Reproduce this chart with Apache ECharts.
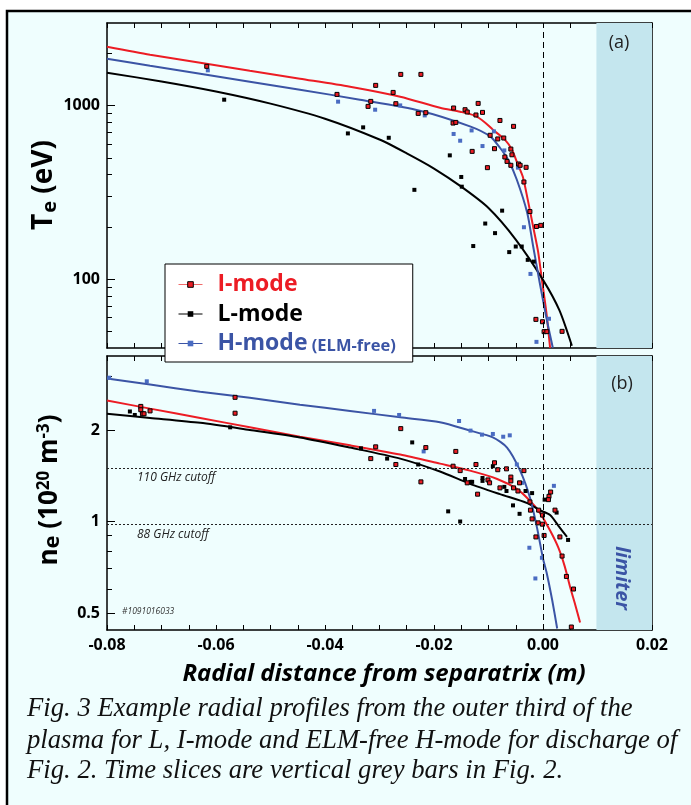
<!DOCTYPE html>
<html><head><meta charset="utf-8">
<script src="https://cdn.jsdelivr.net/npm/echarts@6/dist/echarts.min.js"></script>
<style>html,body{margin:0;padding:0;background:#fff}#c{width:691px;height:805px}</style>
</head><body><div id="c"></div>
<script>
// ---------- data ----------
// Panel (a): electron temperature Te (eV), fit curves
const teIFitX = [-0.0800,-0.0721,-0.0629,-0.0538,-0.0446,-0.0354,-0.0262,-0.0189,-0.0152,-0.0125,-0.0106,-0.0092,-0.0070,-0.0057,-0.0046,-0.0037,-0.0028,-0.0018,-0.0009,-0.0002,0.0006,0.0013];
const teIFitY = [2190,1970,1771,1592,1432,1287,1127,974,923,876,798,727,637,557,457,389,287,200,144,99,64.8,40.1];
const teLFitX = [-0.0800,-0.0700,-0.0600,-0.0500,-0.0400,-0.0300,-0.0250,-0.0200,-0.0150,-0.0100,-0.0050,0.0000,0.0030,0.0053];
const teLFitY = [1549,1380,1208,1028,841,638,531,434,341,257,169,98.9,66.1,41.2];
const teHFitX = [-0.0800,-0.0721,-0.0629,-0.0538,-0.0446,-0.0336,-0.0226,-0.0134,-0.0097,-0.0079,-0.0064,-0.0048,-0.0029,-0.0018,-0.0006,0.0007,0.0018];
const teHFitY = [1867,1701,1530,1376,1237,1083,936,760,665,572,488,374,241,154,95.2,58.2,40.1];
// Panel (a): measured points [x (m), Te (eV)]
const teIPts = [[-0.0617,1687],[-0.0378,1162],[-0.0307,1310],[-0.0316,1059],[-0.0321,991],[-0.0261,1516],[-0.0224,1516],[-0.0275,1193],[-0.0270,1027],[-0.0229,903],[-0.0215,911],[-0.0164,970],[-0.0143,948],[-0.0139,920],[-0.0119,1031],[-0.0111,915],[-0.0123,884],[-0.0165,794],[-0.0160,801],[-0.0130,545],[-0.0079,822],[-0.0054,760],[-0.0097,675],[-0.0083,643],[-0.0072,651],[-0.0089,565],[-0.0059,562],[-0.0057,521],[-0.0070,506],[-0.0066,477],[-0.0059,453],[-0.0045,461],[-0.0042,453],[-0.0102,439],[-0.0031,441],[-0.0035,363],[-0.0024,245],[-0.0012,201],[-0.0004,204],[-0.0013,58.5],[-0.0001,56.7],[0.0002,49.7],[0.0007,49.7],[0.0035,49.9]];
const teLPts = [[-0.0585,1083],[-0.0358,692],[-0.0330,750],[-0.0283,653],[-0.0236,327],[-0.0171,517],[-0.0150,388],[-0.0149,341],[-0.0075,248],[-0.0106,209],[-0.0088,184],[-0.0128,155],[-0.0062,143],[-0.0050,154],[-0.0039,154],[-0.0028,129],[-0.0017,126]];
const teHPts = [[-0.0615,1600],[-0.0376,1055],[-0.0308,948],[-0.0262,1004],[-0.0217,879],[-0.0131,720],[-0.0164,687],[-0.0152,628],[-0.0111,585],[-0.0090,711],[-0.0071,552],[-0.0046,439],[-0.0035,199],[-0.0023,107],[0.0011,59],[-0.0012,43.4]];

// Panel (b): electron density ne (1e20 m^-3), fit curves
const neIFitX = [-0.0800,-0.0721,-0.0629,-0.0538,-0.0446,-0.0354,-0.0262,-0.0189,-0.0134,-0.0084,-0.0048,-0.0024,-0.0006,0.0013,0.0028,0.0040,0.0050,0.0059,0.0068];
const neIFitY = [2.50,2.35,2.19,2.04,1.90,1.78,1.66,1.55,1.47,1.38,1.28,1.17,1.07,0.934,0.822,0.711,0.607,0.534,0.466];
const neLFitX = [-0.0800,-0.0721,-0.0629,-0.0538,-0.0446,-0.0354,-0.0262,-0.0189,-0.0134,-0.0079,-0.0029,-0.0006,0.0013,0.0028,0.0044];
const neLFitY = [2.26,2.19,2.11,2.00,1.89,1.75,1.61,1.46,1.33,1.23,1.15,1.09,1.05,0.97,0.89];
const neHFitX = [-0.0800,-0.0721,-0.0629,-0.0538,-0.0446,-0.0354,-0.0262,-0.0189,-0.0134,-0.0092,-0.0066,-0.0042,-0.0024,-0.0011,0.0000,0.0007,0.0017,0.0026];
const neHFitY = [2.95,2.82,2.67,2.55,2.42,2.31,2.20,2.12,1.99,1.89,1.75,1.47,1.20,0.955,0.756,0.675,0.550,0.445];
// Panel (b): measured points [x (m), ne]
const neIPts = [[-0.0738,2.39],[-0.0738,2.33],[-0.0735,2.26],[-0.0732,2.26],[-0.0721,2.31],[-0.0565,2.56],[-0.0565,2.27],[-0.0261,2.02],[-0.0307,1.76],[-0.0316,1.61],[-0.0270,1.54],[-0.0215,1.75],[-0.0224,1.35],[-0.0160,1.70],[-0.0165,1.52],[-0.0152,1.47],[-0.0139,1.34],[-0.0123,1.54],[-0.0120,1.23],[-0.0089,1.56],[-0.0083,1.48],[-0.0067,1.49],[-0.0035,1.47],[-0.0101,1.37],[-0.0098,1.34],[-0.0079,1.29],[-0.0059,1.40],[-0.0059,1.36],[-0.0054,1.29],[-0.0043,1.34],[-0.0046,1.26],[-0.0024,1.16],[-0.0023,1.09],[-0.0020,1.02],[-0.0008,1.09],[-0.0001,1.05],[-0.0001,0.98],[0.0002,0.90],[-0.0013,0.89],[0.0014,1.25],[0.0011,1.21],[0.0010,1.18],[0.0022,1.09],[0.0031,0.89],[0.0035,0.77],[0.0043,0.66],[0.0056,0.60],[0.0052,0.45],[-0.0009,0.99]];
const neLPts = [[-0.0758,2.30],[-0.0749,2.24],[-0.0574,2.04],[-0.0334,1.74],[-0.0286,1.61],[-0.0240,1.82],[-0.0229,1.54],[-0.0174,1.08],[-0.0152,1.00],[-0.0143,1.38],[-0.0133,1.35],[-0.0130,1.35],[-0.0092,1.52],[-0.0111,1.39],[-0.0111,1.36],[-0.0071,1.30],[-0.0067,1.26],[-0.0032,1.26],[-0.0020,1.24],[-0.0055,1.13],[-0.0043,1.06],[0.0003,1.18],[0.0025,1.07],[0.0046,0.87]];
const neHPts = [[-0.0796,2.97],[-0.0727,2.89],[-0.0310,2.31],[-0.0264,2.24],[-0.0219,1.70],[-0.0154,2.14],[-0.0133,1.99],[-0.0112,1.93],[-0.0092,1.94],[-0.0073,1.90],[-0.0061,1.92],[-0.0048,1.54],[-0.0038,1.34],[0.0020,1.31],[-0.0025,0.82],[-0.0002,0.76],[-0.0014,0.65]];

// axes
const xRange = [-0.08, 0.02];
const teRange = [40, 3000];
const neRange = [0.44, 3.5];
const teMajorTicks = [100, 1000];
const teMinorTicks = [50,60,70,80,90,200,300,400,500,600,700,800,900,2000];
const neMajorTicks = [0.5, 1, 2];
const neMinorTicks = [0.6,0.7,0.8,0.9,3];
const limiterStart = 0.0098;
const cutoffs = [1.5, 0.98];
const cutoffLabels = ['110 GHz cutoff', '88 GHz cutoff'];
const modeNames = ['I-mode', 'L-mode', 'H-mode'];

// ---------- styling ----------
const FONT = '"Open Sans", "Noto Sans", sans-serif';
const SERIF = '"Liberation Serif", "DejaVu Serif", serif';
const RED = '#ec1c24', BLUE = '#3b54a5', BLUEPT = '#4a6cc2', BLK = '#000';
const zip = (xs, ys) => xs.map((x, i) => [x, ys[i]]);

function xAx(grid, pos, labels) {
  return {
    type: 'value', gridIndex: grid, position: pos, min: xRange[0], max: xRange[1], interval: 0.02,
    axisLine: {show: true, onZero: false, lineStyle: {color: '#000', width: 1.5}},
    axisTick: {show: true, inside: true, length: 5, lineStyle: {color: '#000', width: 1}},
    minorTick: {show: true, splitNumber: 4, length: 5, lineStyle: {color: '#000', width: 1}},
    splitLine: {show: false}, minorSplitLine: {show: false},
    axisLabel: {show: labels, margin: 7, fontFamily: FONT, fontWeight: 'bold', fontSize: 16, color: '#000',
      formatter: v => Math.abs(v) < 1e-9 ? '0.00' : v.toFixed(2)}
  };
}
function yAx(grid, pos, range, ticks, len, line, labels, fmt) {
  return {
    type: 'log', logBase: 10, gridIndex: grid, position: pos, min: range[0], max: range[1],
    axisLine: {show: line, onZero: false, lineStyle: {color: '#000', width: 1.5}},
    axisTick: {show: true, inside: true, length: len, customValues: ticks, lineStyle: {color: '#000', width: 1}},
    axisLabel: {show: labels, customValues: ticks, margin: 7, fontFamily: FONT, fontWeight: 'bold', fontSize: 16, color: '#000', formatter: fmt},
    splitLine: {show: false}, minorTick: {show: false}
  };
}
const teFmt = v => String(Math.round(v));
const neFmt = v => v >= 0.999 ? String(Math.round(v)) : v.toFixed(1);

function fitLine(name, data, color, xi, yi, extra) {
  return Object.assign({
    type: 'line', name, data, xAxisIndex: xi, yAxisIndex: yi, smooth: 0.25, symbol: 'rect', showSymbol: false,
    lineStyle: {color, width: 2}, itemStyle: {color}, z: 2, silent: true
  }, extra || {});
}
function pts(name, data, xi, yi, fill, border, size) {
  return {
    type: 'scatter', name, data, xAxisIndex: xi, yAxisIndex: yi, symbol: 'rect', symbolSize: size,
    itemStyle: {color: fill, borderColor: border || fill, borderWidth: border ? 1 : 0, opacity: 1}, z: 3, silent: true
  };
}
function markers(withCutoffs) {
  const ml = [{xAxis: 0, lineStyle: {type: [6, 4], color: '#000', width: 1}}];
  if (withCutoffs) {
    cutoffs.forEach((c, i) => ml.push({
      yAxis: c,
      label: {show: true, formatter: cutoffLabels[i], position: 'insideStartBottom', distance: [30, 4],
        fontStyle: 'italic', fontSize: 12, color: '#222', fontFamily: FONT}
    }));
  }
  return {
    markArea: {silent: true, itemStyle: {color: '#c4e6ee', opacity: 1}, data: [[{xAxis: limiterStart}, {xAxis: xRange[1]}]]},
    markLine: {silent: true, symbol: ['none', 'none'], animation: false,
      lineStyle: {color: '#222', width: 1, type: [2, 2]}, label: {show: false}, data: ml}
  };
}

const legendText = {fontSize: 23, fontWeight: 'bold', fontFamily: FONT, padding: [0, 0, 0, 10]};
const option = {
  animation: false,
  backgroundColor: '#effefe',
  grid: [
    {left: 107, top: 23, width: 545, height: 325, containLabel: false, outerBoundsMode: 'none'},
    {left: 107, top: 356, width: 545, height: 274, containLabel: false, outerBoundsMode: 'none'}
  ],
  xAxis: [xAx(0, 'bottom', false), xAx(0, 'top', false), xAx(1, 'bottom', true), xAx(1, 'top', false)],
  yAxis: [
    yAx(0, 'left', teRange, teMajorTicks, 8, true, true, teFmt),
    yAx(0, 'left', teRange, teMinorTicks, 5, false, false, teFmt),
    yAx(0, 'right', teRange, teMajorTicks, 8, true, false, teFmt),
    yAx(0, 'right', teRange, teMinorTicks, 5, false, false, teFmt),
    yAx(1, 'left', neRange, neMajorTicks, 8, true, true, neFmt),
    yAx(1, 'left', neRange, neMinorTicks, 5, false, false, neFmt),
    yAx(1, 'right', neRange, neMajorTicks, 8, true, false, neFmt),
    yAx(1, 'right', neRange, neMinorTicks, 5, false, false, neFmt)
  ],
  legend: {
    orient: 'vertical', left: 165, top: 264, padding: [9, 17, 7, 13], itemGap: 6.5,
    itemWidth: 24, itemHeight: 7, backgroundColor: '#fff', borderColor: '#000', borderWidth: 1,
    borderRadius: 0, selectedMode: false, z: 10,
    data: [
      {name: modeNames[0], itemStyle: {color: RED, borderColor: '#000', borderWidth: 1}, lineStyle: {color: '#f06a6a', width: 1}},
      {name: modeNames[1], itemStyle: {color: '#000', borderWidth: 0}, lineStyle: {color: '#000', width: 1}},
      {name: modeNames[2], itemStyle: {color: BLUEPT, borderWidth: 0}, lineStyle: {color: BLUE, width: 1}}
    ],
    formatter: n => n === 'H-mode' ? '{h|H-mode}{hs| (ELM-free)}' : (n === 'I-mode' ? '{i|I-mode}' : '{l|L-mode}'),
    textStyle: {
      rich: {
        i: Object.assign({color: RED}, legendText),
        l: Object.assign({color: '#000'}, legendText),
        h: Object.assign({color: BLUE}, legendText),
        hs: {color: BLUE, fontSize: 16.5, fontWeight: 'bold', fontFamily: FONT, padding: [6, 0, 0, 0]}
      }
    }
  },
  series: [
    fitLine(modeNames[0], zip(teIFitX, teIFitY), RED, 0, 0),
    fitLine(modeNames[1], zip(teLFitX, teLFitY), BLK, 0, 0, markers(false)),
    fitLine(modeNames[2], zip(teHFitX, teHFitY), BLUE, 0, 0),
    fitLine(modeNames[0], zip(neIFitX, neIFitY), RED, 2, 4),
    fitLine(modeNames[1], zip(neLFitX, neLFitY), BLK, 2, 4, markers(true)),
    fitLine(modeNames[2], zip(neHFitX, neHFitY), BLUE, 2, 4),
    pts(modeNames[1], teLPts, 0, 0, '#000', null, 4),
    pts(modeNames[2], teHPts, 0, 0, BLUEPT, null, 4),
    pts(modeNames[0], teIPts, 0, 0, RED, '#000', 4),
    pts(modeNames[1], neLPts, 2, 4, '#000', null, 4),
    pts(modeNames[2], neHPts, 2, 4, BLUEPT, null, 4),
    pts(modeNames[0], neIPts, 2, 4, RED, '#000', 4)
  ],
  graphic: [
    {type: 'rect', silent: true, shape: {x: 0, y: 0, width: 691, height: 10}, style: {fill: '#fff'}},
    {type: 'rect', silent: true, shape: {x: 0, y: 0, width: 6, height: 805}, style: {fill: '#fff'}},
    {type: 'polyline', silent: true, shape: {points: [[7, 805], [7, 11], [691, 11]]}, style: {stroke: '#000', lineWidth: 2.5, fill: null}},
    {type: 'text', silent: true, x: 619, y: 43, z: 20, style: {text: '(a)', fontSize: 18, fontFamily: FONT, fill: '#222', align: 'center', verticalAlign: 'middle', textAlign: 'center', textVerticalAlign: 'middle'}},
    {type: 'text', silent: true, x: 622, y: 384, z: 20, style: {text: '(b)', fontSize: 18, fontFamily: FONT, fill: '#222', align: 'center', verticalAlign: 'middle', textAlign: 'center', textVerticalAlign: 'middle'}},
    {type: 'text', silent: true, x: 622, y: 578, rotation: -Math.PI / 2, z: 20, style: {text: 'limiter', fontSize: 20, fontWeight: 'bold', fontStyle: 'italic', fontFamily: FONT, fill: BLUE, align: 'center', verticalAlign: 'middle', textAlign: 'center', textVerticalAlign: 'middle'}},
    {type: 'text', silent: true, x: 122, y: 612, z: 20, style: {text: '#1091016033', fontSize: 8.5, fontStyle: 'italic', fontFamily: FONT, fill: '#333', align: 'left', verticalAlign: 'middle', textAlign: 'left', textVerticalAlign: 'middle'}},
    {type: 'text', silent: true, x: 44, y: 185, rotation: Math.PI / 2, z: 20, style: {
      text: '{a|T}{s|e}{a| (eV)}', align: 'center', verticalAlign: 'middle', textAlign: 'center', textVerticalAlign: 'middle', fill: '#000',
      rich: {a: {fontSize: 28, fontWeight: 'bold', fontFamily: FONT, fill: '#000', color: '#000'},
             s: {fontSize: 20, fontWeight: 'bold', fontFamily: FONT, fill: '#000', color: '#000', padding: [12, 0, 0, 1]}}}},
    {type: 'text', silent: true, x: 50, y: 490, rotation: Math.PI / 2, z: 20, style: {
      text: '{a|n}{e|e}{a| (10}{p|20}{a| m}{p|-3}{a|)}', align: 'center', verticalAlign: 'middle', textAlign: 'center', textVerticalAlign: 'middle', fill: '#000',
      rich: {a: {fontSize: 26, fontWeight: 'bold', fontFamily: FONT, fill: '#000', color: '#000'},
             e: {fontSize: 22, fontWeight: 'bold', fontFamily: FONT, fill: '#000', color: '#000', padding: [6, 0, 0, 0]},
             p: {fontSize: 17, fontWeight: 'bold', fontFamily: FONT, fill: '#000', color: '#000', padding: [0, 0, 12, 0]}}}},
    {type: 'text', silent: true, x: 384, y: 674, z: 20, style: {text: 'Radial distance from separatrix (m)', fontSize: 24, fontWeight: 'bold', fontStyle: 'italic', fontFamily: FONT, fill: '#000', align: 'center', verticalAlign: 'middle', textAlign: 'center', textVerticalAlign: 'middle'}},
    {type: 'text', silent: true, x: 27, y: 709, z: 20, style: {text: 'Fig. 3 Example radial profiles from the outer third of the', fontSize: 26.7, fontStyle: 'italic', fontFamily: SERIF, fill: '#111', align: 'left', verticalAlign: 'middle', textAlign: 'left', textVerticalAlign: 'middle'}},
    {type: 'text', silent: true, x: 27, y: 741, z: 20, style: {text: 'plasma for L, I-mode and ELM-free H-mode for discharge of', fontSize: 26.7, fontStyle: 'italic', fontFamily: SERIF, fill: '#111', align: 'left', verticalAlign: 'middle', textAlign: 'left', textVerticalAlign: 'middle'}},
    {type: 'text', silent: true, x: 27, y: 771, z: 20, style: {text: 'Fig. 2. Time slices are vertical grey bars in Fig. 2.', fontSize: 26.7, fontStyle: 'italic', fontFamily: SERIF, fill: '#111', align: 'left', verticalAlign: 'middle', textAlign: 'left', textVerticalAlign: 'middle'}}
  ]
};
const chart = echarts.init(document.getElementById('c'), null, {renderer: 'canvas', width: 691, height: 805});
chart.setOption(option);
</script>
</body></html>
